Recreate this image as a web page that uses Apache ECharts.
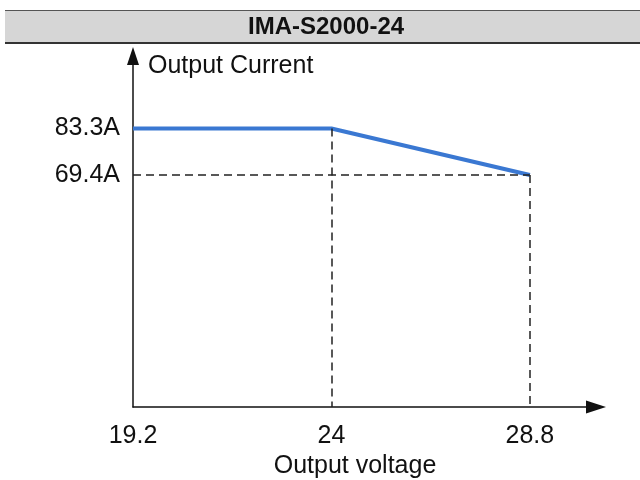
<!DOCTYPE html>
<html>
<head>
<meta charset="utf-8">
<script src="https://cdn.jsdelivr.net/npm/echarts@6/dist/echarts.min.js"></script>
<style>
  html, body { margin: 0; padding: 0; background: #fff; }
  #derating { width: 640px; height: 480px; }
</style>
</head>
<body>
<div id="derating"></div>
<script>
// curve for IMA-S2000-24: output voltage (V) vs output current (A)
var voltage = [19.2, 24, 28.8]
var current = [83.3, 83.3, 69.4]
var xTicks = [19.2, 24, 28.8]
var yTicks = [69.4, 83.3]

var font = 'Arial, "Liberation Sans", sans-serif'

var chart = echarts.init(document.getElementById('derating'))
chart.setOption({
  animation: false,
  title: {
    text: 'IMA-S2000-24',
    left: 248,
    top: 15,
    padding: 0,
    textStyle: { fontFamily: font, fontSize: 24, fontWeight: 'bold', color: '#111' }
  },
  graphic: [
    // grey header strip
    { type: 'rect', z: -1, shape: { x: 5, y: 10, width: 640, height: 33 }, style: { fill: '#d6d6d6' } },
    { type: 'line', shape: { x1: 5, y1: 10.5, x2: 640, y2: 10.5 }, style: { stroke: '#555', lineWidth: 1 } },
    { type: 'line', shape: { x1: 5, y1: 43, x2: 640, y2: 43 }, style: { stroke: '#333', lineWidth: 2 } }
  ],
  grid: {
    left: 133,
    right: 44,
    top: 56,
    bottom: 73,
    outerBoundsMode: 'none',
    containLabel: false
  },
  xAxis: {
    type: 'value',
    min: 19.2,
    max: 30.4,
    name: 'Output voltage',
    nameLocation: 'middle',
    nameGap: 47,
    nameTextStyle: { fontFamily: font, fontSize: 25, color: '#111', padding: [0, 19, 0, 0] },
    axisLine: {
      lineStyle: { color: '#111', width: 1.5 },
      symbol: ['none', 'triangle'],
      symbolSize: [13, 20]
    },
    axisTick: { show: false },
    splitLine: { show: false },
    axisLabel: {
      customValues: xTicks,
      margin: 17,
      fontFamily: font,
      fontSize: 25,
      color: '#111'
    }
  },
  yAxis: {
    type: 'value',
    min: 0,
    max: 105,
    name: 'Output Current',
    nameLocation: 'end',
    nameGap: -10,
    nameTextStyle: { fontFamily: font, fontSize: 25, color: '#111', align: 'left', verticalAlign: 'middle', padding: [0, 0, 0, 15] },
    axisLine: {
      lineStyle: { color: '#111', width: 1.5 },
      symbol: ['none', 'triangle'],
      symbolSize: [12, 18]
    },
    axisTick: { show: false },
    splitLine: { show: false },
    axisLabel: {
      customValues: yTicks,
      formatter: function (v) { return v + 'A' },
      margin: 13,
      fontFamily: font,
      fontSize: 25,
      color: '#111'
    }
  },
  series: [
    {
      type: 'line',
      data: voltage.map(function (v, i) { return [v, current[i]] }),
      showSymbol: false,
      lineStyle: { color: '#3a78d2', width: 4 },
      z: 3,
      markLine: {
        silent: true,
        symbol: ['none', 'none'],
        label: { show: false },
        lineStyle: { color: '#222', width: 1.5, type: [8, 5] },
        data: [
          [{ coord: [voltage[1], current[1]] }, { coord: [voltage[1], 0] }],
          [{ coord: [voltage[2], current[2]] }, { coord: [voltage[2], 0] }],
          [{ coord: [voltage[0], current[2]] }, { coord: [voltage[2], current[2]] }]
        ]
      }
    }
  ]
})
</script>
</body>
</html>
